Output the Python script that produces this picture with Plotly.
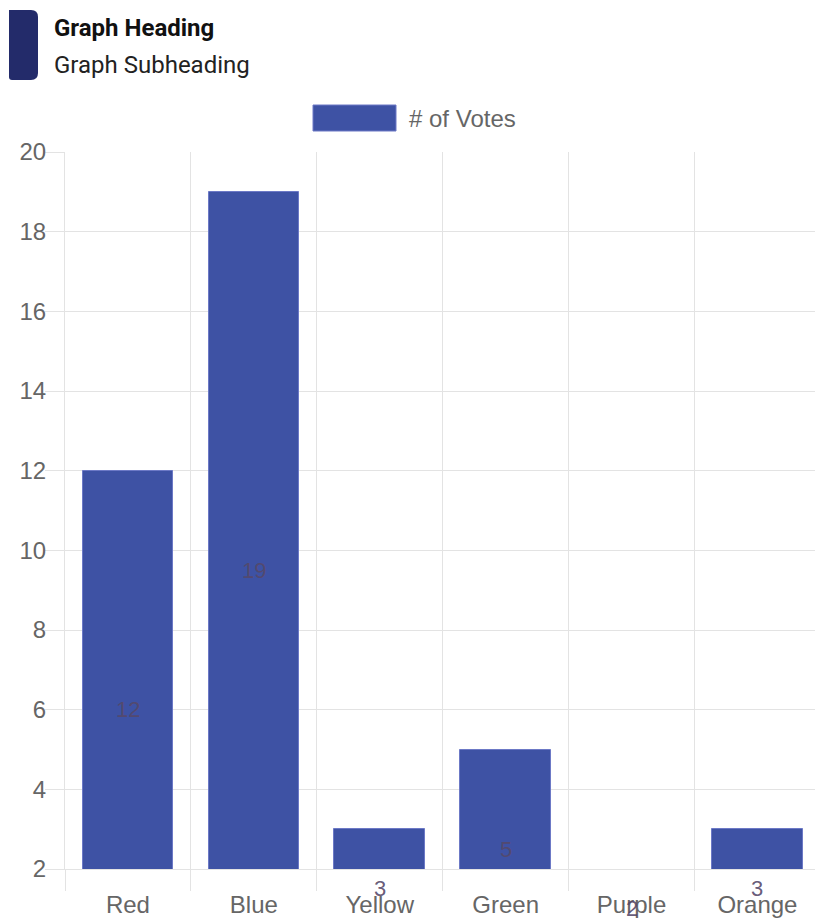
import plotly.graph_objects as go

# Data
categories = ["Red", "Blue", "Yellow", "Green", "Purple", "Orange"]
votes = [12, 19, 3, 5, 2, 3]
series_name = "# of Votes"
heading = "Graph Heading"
subheading = "Graph Subheading"
y_ticks = [2, 4, 6, 8, 10, 12, 14, 16, 18, 20]
Y_MIN, Y_MAX = 2, 20

# Layout geometry (pixels)
W, H = 815, 921
ML, MR, MT, MB = 65, 0, 152, 52
PL, PR, PT, PB = ML, W - MR, MT, H - MB
CAT_PX = 125.9  # width of one category slot

BAR_COLOR = "#3E52A4"
BAR_EDGE = "#6C79C6"
GRID = "#e3e3e3"
TICK_FONT = dict(family="Liberation Sans, Arial, sans-serif", size=24, color="#666666")
VALUE_FONT = dict(family="Liberation Sans, Arial, sans-serif", size=22, color="rgba(85,72,105,0.9)")


def px_x(x):
    return (x - PL) / (PR - PL)


def px_y(y):
    return (PB - y) / (PB - PT)


def val_to_paper(v):
    return (v - Y_MIN) / (Y_MAX - Y_MIN)


xpos = [i + 0.5 for i in range(len(categories))]
x_max = (PR - PL) / CAT_PX

fig = go.Figure()
fig.add_trace(go.Bar(
    x=xpos, y=votes, width=0.72, name=series_name,
    marker=dict(color=BAR_COLOR,
                line=dict(color=BAR_EDGE, width=[1 if v > Y_MIN else 0 for v in votes])),
    showlegend=False, hoverinfo="skip",
))

# Value labels at the middle of each bar (bars start from zero, so some sit below the axis)
for xp, v in zip(xpos, votes):
    fig.add_annotation(
        xref="paper", yref="paper", x=xp / x_max, y=val_to_paper(v / 2),
        xanchor="center", yanchor="middle", showarrow=False,
        text=str(v), font=VALUE_FONT,
    )

fig.update_layout(
    width=W, height=H,
    margin=dict(l=ML, r=MR, t=MT, b=MB, pad=0),
    paper_bgcolor="white", plot_bgcolor="white",
    showlegend=False,
    bargap=0,
)

fig.update_xaxes(
    range=[0, x_max],
    tickmode="array", tickvals=xpos, ticktext=categories,
    ticks="", showgrid=False, zeroline=False,
    showline=True, linecolor=GRID, linewidth=1,
    tickfont=TICK_FONT, ticklabelstandoff=14,
    minor=dict(tickmode="linear", tick0=0, dtick=1, showgrid=True, gridcolor=GRID,
               gridwidth=1, ticks="outside", ticklen=21, tickcolor=GRID, tickwidth=1),
)
fig.update_yaxes(
    range=[Y_MIN, Y_MAX], tickmode="array", tickvals=y_ticks,
    showgrid=True, gridcolor=GRID, gridwidth=1, zeroline=False,
    showline=True, linecolor=GRID, linewidth=1,
    ticks="outside", ticklen=19, tickcolor=GRID, tickwidth=1,
    tickfont=TICK_FONT, ticklabelstandoff=-6,
)

# Legend drawn as a swatch and label
fig.add_shape(type="rect", xref="paper", yref="paper",
              x0=px_x(313), x1=px_x(396), y0=px_y(131), y1=px_y(105),
              fillcolor=BAR_COLOR, line=dict(color=BAR_EDGE, width=1))
fig.add_annotation(xref="paper", yref="paper", x=px_x(407), y=px_y(118),
                   xanchor="left", yanchor="middle", showarrow=False,
                   text=series_name, font=TICK_FONT)

# Heading accent block with rounded right corners
x0, x1, y0, y1 = 9, 38, 10, 80
r = 7
rb = 3
path = (
    f"M {px_x(x0)},{px_y(y0)} "
    f"L {px_x(x1 - r)},{px_y(y0)} "
    f"Q {px_x(x1)},{px_y(y0)} {px_x(x1)},{px_y(y0 + r)} "
    f"L {px_x(x1)},{px_y(y1 - r)} "
    f"Q {px_x(x1)},{px_y(y1)} {px_x(x1 - r)},{px_y(y1)} "
    f"L {px_x(x0 + rb)},{px_y(y1)} "
    f"Q {px_x(x0)},{px_y(y1)} {px_x(x0)},{px_y(y1 - rb)} Z"
)
fig.add_shape(type="path", xref="paper", yref="paper", path=path,
              fillcolor="#232B6A", line=dict(width=0))

fig.add_annotation(xref="paper", yref="paper", x=px_x(52), y=px_y(28),
                   xanchor="left", yanchor="middle", showarrow=False,
                   text=f"<b>{heading}</b>",
                   font=dict(family="Roboto, sans-serif", size=24, color="#111111"))
fig.add_annotation(xref="paper", yref="paper", x=px_x(52), y=px_y(65),
                   xanchor="left", yanchor="middle", showarrow=False,
                   text=subheading,
                   font=dict(family="Roboto, sans-serif", size=24, color="#222222"))

fig.write_html("out.html")
